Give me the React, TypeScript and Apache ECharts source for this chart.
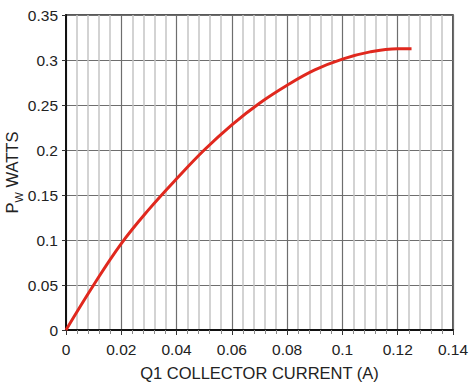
import React, { useEffect, useRef } from "react";
import * as echarts from "echarts";

const currentA = [0, 0.01, 0.02, 0.03, 0.04, 0.05, 0.06, 0.07, 0.08, 0.09, 0.1, 0.11, 0.12, 0.125];
const powerW = [0, 0.05, 0.096, 0.134, 0.168, 0.2, 0.228, 0.252, 0.272, 0.289, 0.301, 0.309, 0.3125, 0.3125];

export default function App() {
  const ref = useRef<HTMLDivElement>(null);
  useEffect(() => {
    if (!ref.current) return;
    const chart = echarts.init(ref.current, null, { renderer: "svg" });
    const font = "Liberation Sans, Arial, sans-serif";
    chart.setOption({
      animation: false,
      grid: {
        left: 66,
        right: 20,
        top: 15,
        bottom: 55,
        containLabel: false,
        outerBoundsMode: "none",
        show: true,
        borderColor: "#222",
        borderWidth: 1.5,
        backgroundColor: "transparent",
      },
      xAxis: {
        type: "value",
        min: 0,
        max: 0.14,
        interval: 0.02,
        name: "Q1 COLLECTOR CURRENT (A)",
        nameLocation: "middle",
        nameGap: 34,
        nameTextStyle: { fontFamily: font, fontSize: 16.5, color: "#222" },
        axisLine: { show: true, onZero: false, lineStyle: { color: "#111", width: 2 } },
        axisTick: { show: true, length: 5, lineStyle: { color: "#333" } },
        minorTick: { show: true, splitNumber: 5, length: 4, lineStyle: { color: "#888" } },
        axisLabel: {
          margin: 11,
          fontFamily: font,
          fontSize: 15.5,
          color: "#222",
          formatter: (v: number) => String(Math.round(v * 100) / 100),
        },
        splitLine: { show: true, lineStyle: { color: "#6e6e6e", width: 1.2 } },
        minorSplitLine: { show: true, lineStyle: { color: "#c4c4c4", width: 1.5 } },
      },
      yAxis: {
        type: "value",
        min: 0,
        max: 0.35,
        interval: 0.05,
        name: "{p|P}{s|W}{t| WATTS}",
        nameLocation: "middle",
        nameMoveOverlap: false,
        nameGap: 46,
        nameRotate: 90,
        nameTextStyle: {
          fontFamily: font,
          color: "#222",
          rich: {
            p: { fontFamily: font, fontSize: 16.5, color: "#222", lineHeight: 20, verticalAlign: "bottom" },
            s: { fontFamily: font, fontSize: 11, color: "#222", lineHeight: 20, verticalAlign: "bottom", padding: [0, 0, -4, 0] },
            t: { fontFamily: font, fontSize: 16.5, color: "#222", lineHeight: 20, verticalAlign: "bottom" },
          },
        },
        axisLine: { show: true, onZero: false, lineStyle: { color: "#111", width: 2 } },
        axisTick: { show: true, length: 4, lineStyle: { color: "#333" } },
        axisLabel: {
          margin: 8,
          fontFamily: font,
          fontSize: 15.5,
          color: "#222",
          formatter: (v: number) => String(Math.round(v * 100) / 100),
        },
        splitLine: { show: true, lineStyle: { color: "#6e6e6e", width: 1.2 } },
      },
      series: [
        {
          type: "line",
          data: currentA.map((x, i) => [x, powerW[i]]),
          smooth: 0.4,
          showSymbol: false,
          lineStyle: { color: "#e0281e", width: 3 },
        },
      ],
    });
    return () => chart.dispose();
  }, []);
  return (
    <div
      ref={ref}
      style={{ position: "absolute", left: 0, top: 0, width: 473, height: 385, background: "#fff" }}
    />
  );
}
